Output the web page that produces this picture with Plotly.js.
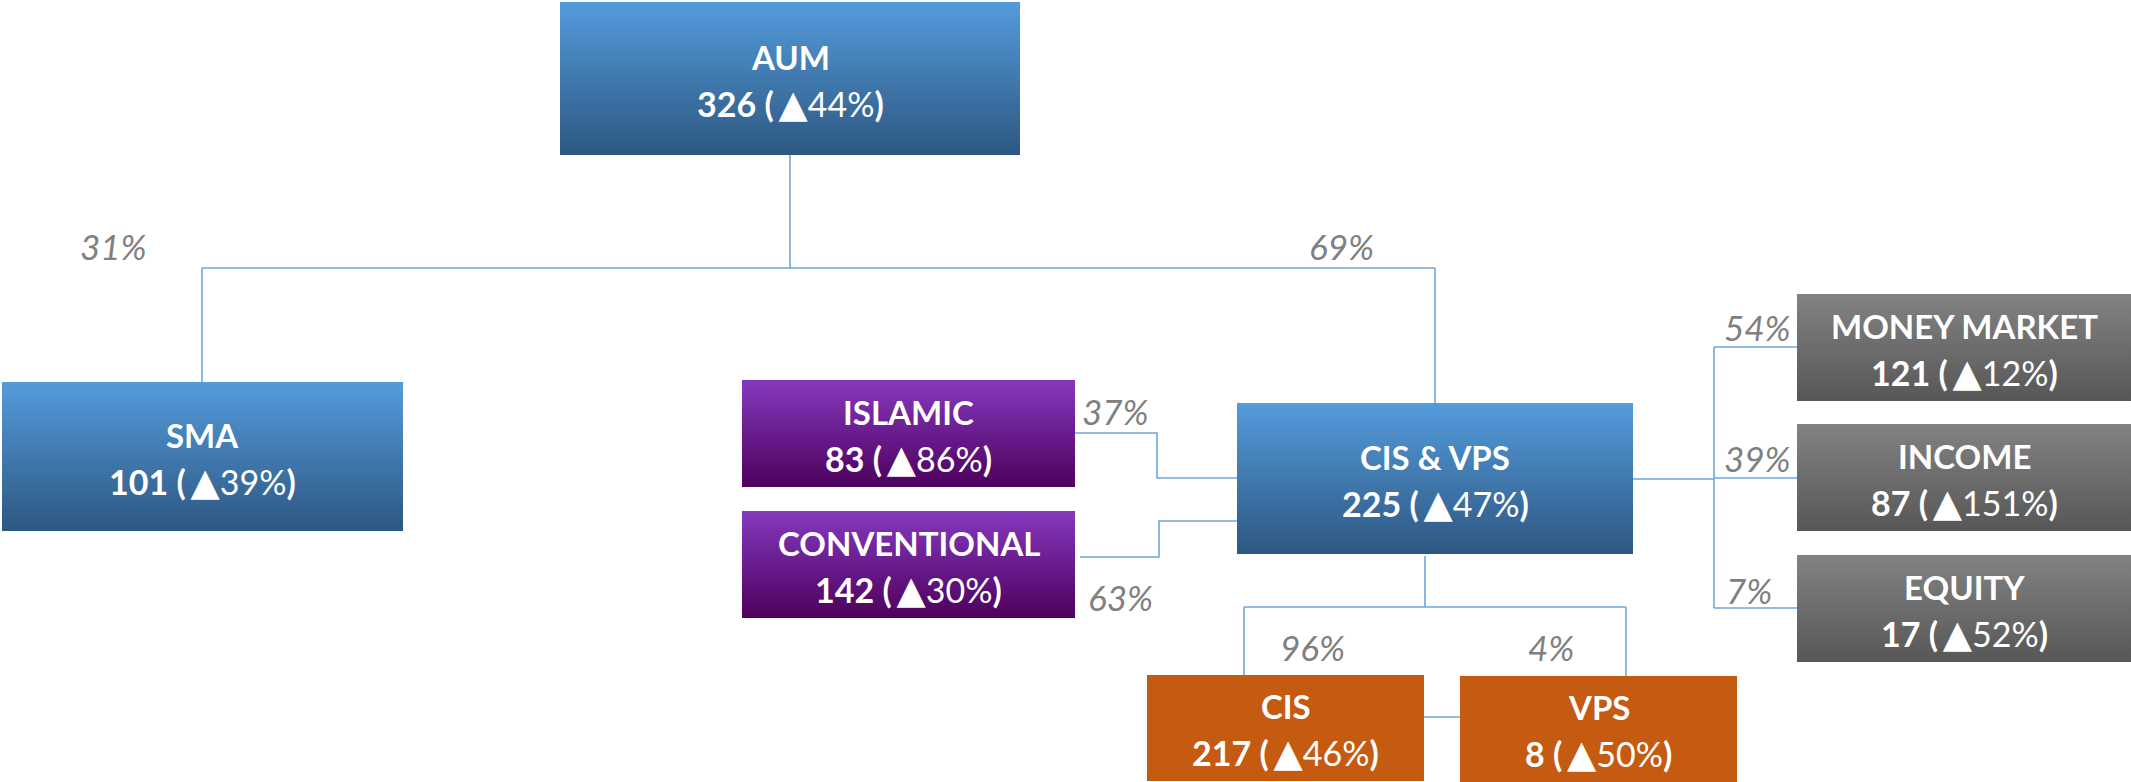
<!DOCTYPE html>
<html>
<head>
<meta charset="utf-8">
<script src="https://cdn.plot.ly/plotly-3.0.1.min.js"></script>
<style>
  html, body { margin: 0; padding: 0; background: #ffffff; }
  #chart { width: 2131px; height: 782px; }
</style>
</head>
<body>
<div id="chart"></div>
<script>
// ---------------- DATA ----------------
const nodeNames  = ["AUM", "SMA", "CIS & VPS", "ISLAMIC", "CONVENTIONAL", "MONEY MARKET", "INCOME", "EQUITY", "CIS", "VPS"];
const nodeValues = [326, 101, 225, 83, 142, 121, 87, 17, 217, 8];
const nodeGrowth = [44, 39, 47, 86, 30, 12, 151, 52, 46, 50];
const nodeGroup  = ["blue", "blue", "blue", "purple", "purple", "gray", "gray", "gray", "orange", "orange"];
const shareLabels = ["31%", "69%", "37%", "63%", "54%", "39%", "7%", "96%", "4%"];

// ---------------- LAYOUT (positions in pixel-like data units) ----------------
const W = 2131, H = 782;
// boxes: [x0, x1, y0, y1]
const boxes = [
  [560, 1020, 2, 155],     // AUM
  [2, 403, 382, 531],      // SMA
  [1237, 1633, 403, 554],  // CIS & VPS
  [742, 1075, 380, 487],   // ISLAMIC
  [742, 1075, 511, 618],   // CONVENTIONAL
  [1797, 2131, 294, 401],  // MONEY MARKET
  [1797, 2131, 424, 531],  // INCOME
  [1797, 2131, 555, 662],  // EQUITY
  [1147, 1424, 675, 781],  // CIS
  [1460, 1737, 676, 782]   // VPS
];
const connectors = [
  [[790, 155], [790, 268]],
  [[202, 268], [1435, 268]],
  [[202, 268], [202, 382]],
  [[1435, 268], [1435, 403]],
  [[1075, 433], [1157, 433], [1157, 478], [1237, 478]],
  [[1080, 557], [1159, 557], [1159, 521], [1237, 521]],
  [[1425, 556], [1425, 607]],
  [[1244, 607], [1626, 607]],
  [[1244, 607], [1244, 675]],
  [[1626, 607], [1626, 676]],
  [[1424, 717], [1460, 717]],
  [[1633, 479], [1714, 479]],
  [[1714, 347], [1714, 608]],
  [[1714, 347], [1797, 347]],
  [[1714, 478], [1797, 478]],
  [[1714, 608], [1797, 608]]
];
// share label anchors: [x, y, xanchor]
const shareAnchors = [
  [113, 246, "center"],
  [1341, 246, "center"],
  [1115, 411, "center"],
  [1120, 597, "center"],
  [1722, 327, "left"],
  [1722, 458, "left"],
  [1724, 590, "left"],
  [1312, 647, "center"],
  [1551, 647, "center"]
];

// ---------------- STYLES ----------------
const gradients = {
  blue:   [[0, "#549BDC"], [1, "#2D5781"]],
  purple: [[0, "#8539BE"], [1, "#4D005C"]],
  gray:   [[0, "#828282"], [1, "#575757"]],
  orange: [[0, "#C55A11"], [1, "#C55A11"]]
};
const lineColor = "#6FA6DC";
const FONT = "Lato, 'Open Sans', 'DejaVu Sans', sans-serif";

const traces = [];
const annotations = [];

// connectors first (under boxes)
connectors.forEach(seg => {
  traces.push({
    type: "scatter", mode: "lines",
    x: seg.map(p => p[0]), y: seg.map(p => p[1]),
    line: { color: lineColor, width: 1.6 },
    hoverinfo: "skip", showlegend: false
  });
});

// boxes
boxes.forEach((b, i) => {
  const [x0, x1, y0, y1] = b;
  traces.push({
    type: "scatter", mode: "lines",
    x: [x0, x1, x1, x0, x0], y: [y0, y0, y1, y1, y0],
    fill: "toself",
    fillgradient: { type: "vertical", colorscale: gradients[nodeGroup[i]], start: y0, stop: y1 },
    line: { width: 0, color: "rgba(0,0,0,0)" },
    hoverinfo: "skip", showlegend: false
  });
  const xc = (x0 + x1) / 2, yc = (y0 + y1) / 2;
  annotations.push({
    x: xc, y: yc - 22, xref: "x", yref: "y", showarrow: false,
    text: "<b>" + nodeNames[i] + "</b>",
    font: { family: FONT, size: 33, color: "#ffffff" },
    xanchor: "center", yanchor: "middle"
  });
  annotations.push({
    x: xc, y: yc + 23, xref: "x", yref: "y", showarrow: false,
    text: "<b>" + nodeValues[i] + " (</b><span style=\"font-size:38px\">\u2009▲</span>" + nodeGrowth[i] + "%<b>)</b>",
    font: { family: FONT, size: 34, color: "#ffffff" },
    xanchor: "center", yanchor: "middle"
  });
});

// share labels
shareLabels.forEach((s, i) => {
  const a = shareAnchors[i];
  annotations.push({
    x: a[0], y: a[1], xref: "x", yref: "y", showarrow: false,
    text: "<i>" + s + "</i>",
    font: { family: FONT, size: 35, color: "#808080" },
    xanchor: a[2], yanchor: "middle"
  });
});

const layout = {
  width: W, height: H,
  margin: { l: 0, r: 0, t: 0, b: 0, pad: 0 },
  paper_bgcolor: "#ffffff", plot_bgcolor: "#ffffff",
  xaxis: { range: [0, W], visible: false, fixedrange: true },
  yaxis: { range: [H, 0], visible: false, fixedrange: true },
  showlegend: false,
  annotations: annotations
};

Plotly.newPlot("chart", traces, layout, { staticPlot: true, displayModeBar: false });
</script>
</body>
</html>
